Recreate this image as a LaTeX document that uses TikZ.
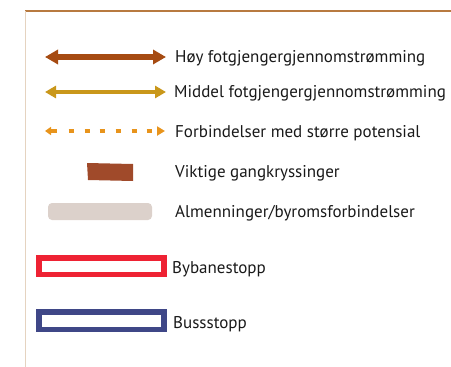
\documentclass[tikz,border=0pt]{standalone}
\usepackage{fontspec}
\setmainfont{PT Sans}
\usetikzlibrary{arrows.meta}
\definecolor{hoy}{HTML}{A64B12}
\definecolor{middel}{HTML}{C9971A}
\definecolor{potensial}{HTML}{E8941C}
\definecolor{kryss}{HTML}{A04A2A}
\definecolor{almen}{HTML}{DCD1CB}
\definecolor{bybane}{HTML}{EE2233}
\definecolor{buss}{HTML}{3F4787}
\definecolor{topline}{HTML}{B87A40}
\definecolor{leftline}{HTML}{E5D3C0}
\tikzset{
  lbl/.style={anchor=base west, inner sep=0pt, font=\fontsize{17}{20}\selectfont, text=black!90},
  stopbox/.style={line width=5.5pt, fill=white},
}
\begin{document}
\begin{tikzpicture}[x=1pt,y=-1pt]
\useasboundingbox (0,0) rectangle (451,367);
% frame
\draw[topline, line width=1.2pt] (25,11) -- (451,11);
\draw[leftline, line width=1pt] (25,11) -- (25,367);
% row 1
\coordinate (a1) at (45,57); \coordinate (b1) at (166,57);
\draw[hoy, line width=6pt, {Triangle[length=13pt,width=14pt]}-{Triangle[length=13pt,width=14pt]}] (a1) -- (b1);
\node[lbl] (t1) at (175,62) {Høy fotgjengergjennomstrømming};
% row 2
\coordinate (a2) at (45,92); \coordinate (b2) at (166,92);
\draw[middel, line width=4.5pt, {Triangle[length=11pt,width=12pt]}-{Triangle[length=11pt,width=12pt]}] (a2) -- (b2);
\node[lbl] (t2) at (174,97) {Middel fotgjengergjennomstrømming};
% row 3
\coordinate (a3) at (45,131); \coordinate (b3) at (165,131);
\draw[potensial, line width=4pt, dash pattern=on 6pt off 12pt on 5pt off 11pt on 5pt off 10pt on 5pt off 11pt on 5pt off 11pt on 5pt off 10pt on 5pt off 11pt on 5pt off 30pt,
  {Triangle[length=6pt,width=8pt]}-{Triangle[length=8pt,width=9pt]}] (a3) -- (b3);
\node[lbl] (t3) at (175,137) {Forbindelser med større potensial};
% row 4
\fill[kryss] (87,163) -- (133,164) -- (133,181) -- (88,180) -- cycle;
\node[lbl] (t4) at (175,177) {Viktige gangkryssinger};
% row 5
\fill[almen, rounded corners=4pt] (48,203) rectangle (152,220);
\node[lbl] (t5) at (175,217) {Almenninger/byromsforbindelser};
% row 6
\draw[stopbox, draw=bybane] (38.75,257.8) rectangle (163.75,274.5);
\node[lbl] (t6) at (172,273) {Bybanestopp};
% row 7
\draw[stopbox, draw=buss] (38.75,312) rectangle (163.75,329.3);
\node[lbl] (t7) at (173,328) {Bussstopp};
\end{tikzpicture}
\end{document}
